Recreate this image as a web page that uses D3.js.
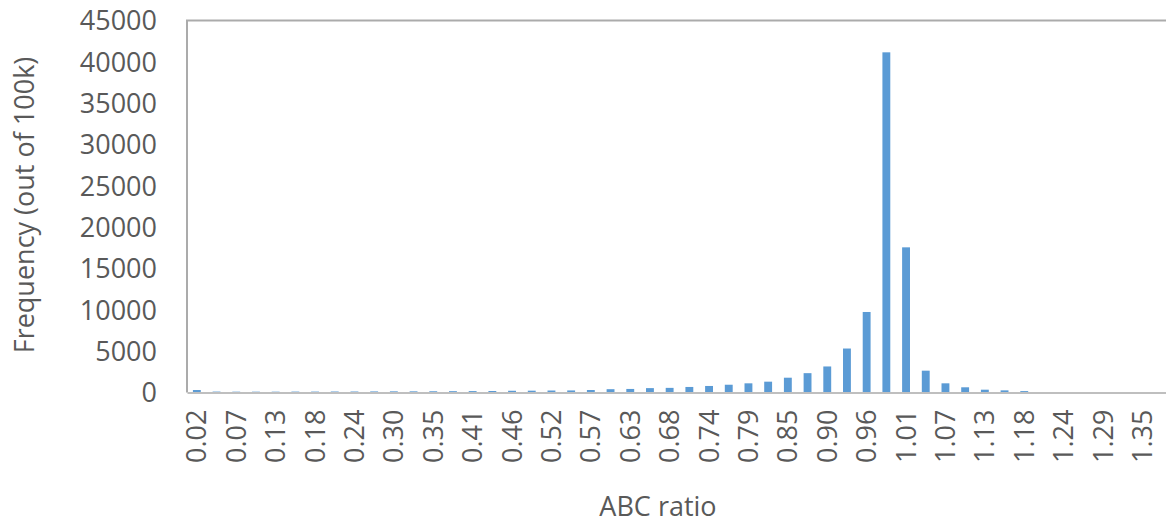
<!DOCTYPE html>
<html>
<head>
<meta charset="utf-8">
<script src="https://cdn.jsdelivr.net/npm/d3@7"></script>
<style>
  html, body { margin: 0; padding: 0; background: #fff; }
  svg { display: block; }
  text { font-family: "Open Sans", "Noto Sans", sans-serif; fill: #595959; }
</style>
</head>
<body>
<svg id="chart" width="1166" height="525"></svg>
<script>
const categories = ["0.02","0.05","0.07","0.10","0.13","0.16","0.18","0.21","0.24","0.27",
  "0.30","0.32","0.35","0.38","0.41","0.43","0.46","0.49","0.52","0.54",
  "0.57","0.60","0.63","0.66","0.68","0.71","0.74","0.77","0.79","0.82",
  "0.85","0.88","0.90","0.93","0.96","0.99","1.01","1.04","1.07","1.10",
  "1.13","1.15","1.18","1.21","1.24","1.26","1.29","1.32","1.35","1.38"];
const frequencies = [300,110,100,100,100,110,110,120,120,130,
  140,140,150,160,170,180,210,220,240,250,
  300,400,430,530,560,670,790,940,1110,1310,
  1790,2340,3150,5320,9740,41150,17560,2640,1110,630,
  340,260,170,60,40,20,10,5,5,0];
const yTicks = [0,5000,10000,15000,20000,25000,30000,35000,40000,45000];
const xTitle = "ABC ratio";
const yTitle = "Frequency (out of 100k)";

const svg = d3.select("#chart");
const pLeft = 187, pRight = 1172, pTop = 20.5, pBottom = 392.5;
const fs = 27;

const x = d3.scaleBand().domain(categories).range([pLeft, pRight]).paddingInner(0.6).paddingOuter(0.3);
const y = d3.scaleLinear().domain([0, 45000]).range([pBottom, pTop]);

// plot area border (top + left)
svg.append("path")
  .attr("d", `M${pLeft},${pBottom} V${pTop} H${pRight}`)
  .attr("fill", "none").attr("stroke", "#ababab").attr("stroke-width", 2);

// bars
svg.append("g").selectAll("rect").data(categories).join("rect")
  .attr("x", (d) => x(d))
  .attr("width", x.bandwidth())
  .attr("y", (d, i) => y(frequencies[i]))
  .attr("height", (d, i) => pBottom - y(frequencies[i]))
  .attr("fill", "#5b9bd5");

// x axis
const xAxis = d3.axisBottom(x)
  .tickValues(categories.filter((d, i) => i % 2 === 0))
  .tickSize(0).tickPadding(0);
const gx = svg.append("g").attr("transform", `translate(0,${pBottom})`).call(xAxis);
gx.select(".domain").attr("stroke", "#bfbfbf").attr("stroke-width", 2);
gx.selectAll("text")
  .attr("transform", "rotate(-90)")
  .attr("x", -17).attr("y", 0).attr("dy", "0.35em")
  .style("text-anchor", "end")
  .attr("font-size", fs).style("font-family", "'Open Sans', sans-serif").attr("fill", "#595959");

// y axis
const yAxis = d3.axisLeft(y).tickValues(yTicks).tickFormat(d3.format("d")).tickSize(0).tickPadding(0);
const gy = svg.append("g").attr("transform", `translate(157,0)`).call(yAxis);
gy.select(".domain").remove();
gy.selectAll("text").attr("font-size", fs).attr("dy", "0.35em").attr("x", 0)
  .style("font-family", "'Open Sans', sans-serif").attr("fill", "#595959");

// titles
svg.append("text").attr("x", 658).attr("y", 507).attr("dy", "0.35em")
  .attr("text-anchor", "middle").attr("font-size", fs).text(xTitle);
svg.append("text").attr("transform", "translate(25,205) rotate(-90)").attr("dy", "0.35em")
  .attr("text-anchor", "middle").attr("font-size", fs).text(yTitle);
</script>
</body>
</html>
